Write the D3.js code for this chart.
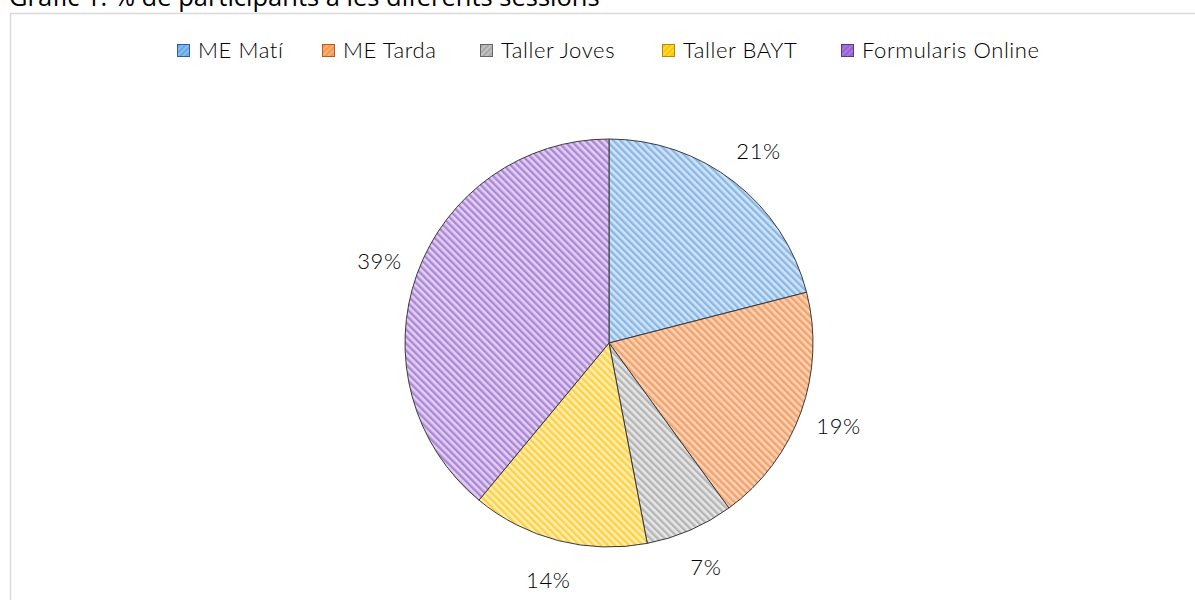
<!DOCTYPE html>
<html>
<head>
<meta charset="utf-8">
<script src="https://cdn.jsdelivr.net/npm/d3@7"></script>
<style>
  body { margin: 0; background: #fff; overflow: hidden; }
  text { fill: #000; }
</style>
</head>
<body>
<div id="chart_div"></div>
<script>
// dades del gràfic
var categories = ["ME Matí", "ME Tarda", "Taller Joves", "Taller BAYT", "Formularis Online"];
var values = [21, 19, 7, 14, 39];
var pctLabels = ["21%", "19%", "7%", "14%", "39%"];

// colors: fons, ratlla (pastís) i mostra de llegenda
var bgColors = ["#d0e3f7", "#fbd2b5", "#e6e6e6", "#ffefb0", "#e1d0f0"];
var stripeColors = ["#8ab8e5", "#f2a36c", "#b5b5b5", "#ffd045", "#ac86d8"];
var legendColors = ["#6fa6dc", "#f0985a", "#a9a9a9", "#fcc21c", "#9466c8"];
var legendBorder = ["#2f5f95", "#b65a1d", "#666666", "#b88a00", "#5b3590"];

var all_width = 1195, all_height = 600;
var svg = d3.select("#chart_div")
  .append("svg")
    .attr("width", all_width)
    .attr("height", all_height);

var defs = svg.append("defs");
categories.forEach(function(c, i) {
  var p = defs.append("pattern")
    .attr("id", "hatch" + i)
    .attr("patternUnits", "userSpaceOnUse")
    .attr("width", 5).attr("height", 5)
    .attr("patternTransform", "rotate(-45)");
  p.append("rect").attr("width", 5).attr("height", 5).attr("fill", bgColors[i]);
  p.append("rect").attr("width", 2.4).attr("height", 5).attr("fill", stripeColors[i]);

  var q = defs.append("pattern")
    .attr("id", "lhatch" + i)
    .attr("patternUnits", "userSpaceOnUse")
    .attr("width", 4).attr("height", 4)
    .attr("patternTransform", "rotate(45)");
  q.append("rect").attr("width", 4).attr("height", 4).attr("fill", legendColors[i]);
  q.append("rect").attr("width", 1.5).attr("height", 4).attr("fill", d3.color(legendColors[i]).brighter(0.5));
});

// títol (retallat a dalt)
svg.append("text")
  .attr("x", 9)
  .attr("y", 6)
  .style("font-family", "Open Sans, sans-serif")
  .style("font-size", "25.5px")
  .text("Gràfic 1: % de participants a les diferents sessions");

// marc
svg.append("rect")
  .attr("x", 10.5).attr("y", 13.5)
  .attr("width", 1200).attr("height", 620)
  .attr("fill", "none")
  .attr("stroke", "#d9d9d9")
  .attr("stroke-width", 1.5);

// llegenda
var legendX = [177, 322, 480, 662, 841];
var legend = svg.append("g");
categories.forEach(function(c, i) {
  var g = legend.append("g").attr("transform", "translate(" + legendX[i] + ",44)");
  g.append("rect")
    .attr("x", 0.5).attr("y", 0.5)
    .attr("width", 12).attr("height", 12)
    .attr("fill", "url(#lhatch" + i + ")")
    .attr("stroke", legendBorder[i])
    .attr("stroke-width", 1);
  g.append("text")
    .attr("x", 21)
    .attr("y", 14)
    .style("font-family", "Lato, sans-serif")
    .style("font-weight", "300")
    .style("font-size", "22px")
    .style("letter-spacing", "0.6px")
    .text(c);
});

// pastís
var cx = 609, cy = 343, radius = 204;
var pie = d3.pie().sort(null).value(function(d) { return d; });
var arcs = pie(values);
var arc = d3.arc().innerRadius(0).outerRadius(radius);
var labelArc = d3.arc().innerRadius(radius + 40).outerRadius(radius + 40);

var g = svg.append("g").attr("transform", "translate(" + cx + "," + cy + ")");
g.selectAll("slices")
  .data(arcs)
  .enter()
  .append("path")
    .attr("d", arc)
    .attr("fill", function(d, i) { return "url(#hatch" + i + ")"; })
    .attr("stroke", "#3a3a3a")
    .attr("stroke-width", 1);

g.selectAll("labels")
  .data(arcs)
  .enter()
  .append("text")
    .attr("transform", function(d) { return "translate(" + labelArc.centroid(d) + ")"; })
    .attr("text-anchor", "middle")
    .attr("dominant-baseline", "central")
    .style("font-family", "Lato, sans-serif")
    .style("font-weight", "300")
    .style("font-size", "22px")
    .style("letter-spacing", "0.6px")
    .text(function(d, i) { return pctLabels[i]; });
</script>
</body>
</html>
